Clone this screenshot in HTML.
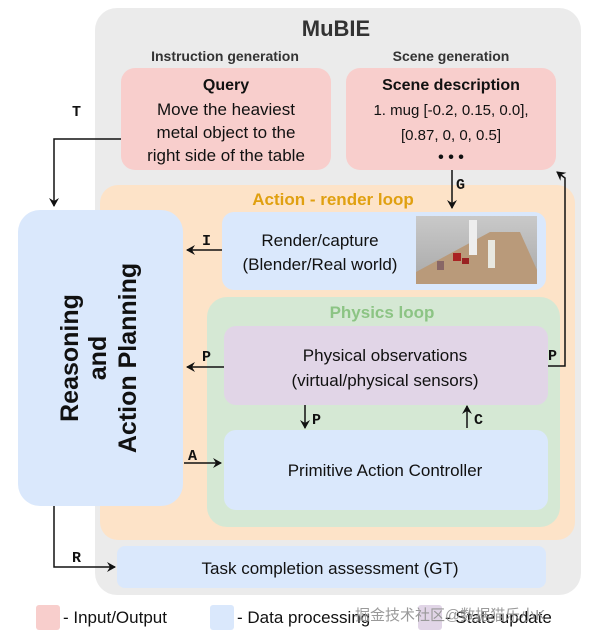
<!DOCTYPE html>
<html><head><meta charset="utf-8"><style>
html,body{margin:0;padding:0;background:#fff;width:600px;height:641px;overflow:hidden}
svg text{font-family:"Liberation Sans",sans-serif}
.m{font-family:"Liberation Mono",monospace;font-size:15px;font-weight:bold}
</style></head><body>
<svg width="600" height="641" viewBox="0 0 600 641" xmlns="http://www.w3.org/2000/svg" fill="#111">
<defs>
<marker id="a" markerWidth="10" markerHeight="10" refX="8" refY="5" orient="auto" markerUnits="userSpaceOnUse"><path d="M0,0 L9,5 L0,10 L3,5 z" fill="#111"/></marker>
<linearGradient id="wall" x1="0" y1="0" x2="0" y2="1"><stop offset="0" stop-color="#c9c9c9"/><stop offset="1" stop-color="#a8a8a8"/></linearGradient>
</defs>
<rect x="95" y="8" width="486" height="587" rx="22" fill="#ebebeb"/>
<text x="336" y="36" font-size="22" font-weight="bold" text-anchor="middle" style="fill:#333">MuBIE</text>
<text x="225" y="61" font-size="14" font-weight="bold" text-anchor="middle" style="fill:#333">Instruction generation</text>
<text x="451" y="61" font-size="14" font-weight="bold" text-anchor="middle" style="fill:#333">Scene generation</text>
<rect x="121" y="68" width="210" height="102" rx="14" fill="#f8cecc"/>
<rect x="346" y="68" width="210" height="102" rx="14" fill="#f8cecc"/>
<text x="226" y="90" font-size="16" font-weight="bold" text-anchor="middle">Query</text>
<text x="226" y="115" font-size="17" text-anchor="middle">Move the heaviest</text>
<text x="226" y="138" font-size="17" text-anchor="middle">metal object to the</text>
<text x="226" y="161" font-size="17" text-anchor="middle">right side of the table</text>
<text x="451" y="90" font-size="16" font-weight="bold" text-anchor="middle">Scene description</text>
<text x="451" y="115" font-size="15" text-anchor="middle">1. mug [-0.2, 0.15, 0.0],</text>
<text x="451" y="140" font-size="15" text-anchor="middle">[0.87, 0, 0, 0.5]</text>
<text x="451" y="162" font-size="16" text-anchor="middle" font-weight="bold">•  •  •</text>
<rect x="100" y="185" width="475" height="355" rx="18" fill="#fde3c8"/>
<text x="333" y="205" font-size="17" font-weight="bold" text-anchor="middle" style="fill:#e0a010">Action - render loop</text>
<rect x="222" y="212" width="324" height="78" rx="12" fill="#dae8fc"/>
<text x="320" y="246" font-size="17" text-anchor="middle">Render/capture</text>
<text x="320" y="270" font-size="17" text-anchor="middle">(Blender/Real world)</text>
<rect x="416" y="216" width="121" height="68" fill="url(#wall)"/>
<path d="M416,284 L416,272 L490,232 L520,232 L537,270 L537,284 Z" fill="#b99a7a"/>
<rect x="469" y="220" width="8" height="35" fill="#eee"/>
<rect x="488" y="240" width="7" height="28" fill="#e8e8e0"/>
<rect x="453" y="253" width="8" height="8" fill="#a22"/>
<rect x="462" y="258" width="7" height="6" fill="#922"/>
<rect x="437" y="261" width="7" height="9" fill="#866"/>
<rect x="207" y="297" width="353" height="230" rx="20" fill="#d5e8d4"/>
<text x="382" y="318" font-size="17" font-weight="bold" text-anchor="middle" style="fill:#8cc484">Physics loop</text>
<rect x="224" y="326" width="324" height="79" rx="12" fill="#e1d5e7"/>
<text x="385" y="361" font-size="17" text-anchor="middle">Physical observations</text>
<text x="385" y="386" font-size="17" text-anchor="middle">(virtual/physical sensors)</text>
<rect x="224" y="430" width="324" height="80" rx="12" fill="#dae8fc"/>
<text x="385" y="476" font-size="17" text-anchor="middle">Primitive Action Controller</text>
<rect x="18" y="210" width="165" height="296" rx="22" fill="#dae8fc"/>
<g transform="translate(100,358) rotate(-90)" font-weight="bold" font-size="25">
<text x="0" y="-22" text-anchor="middle">Reasoning</text>
<text x="0" y="6" text-anchor="middle">and</text>
<text x="0" y="36" text-anchor="middle">Action Planning</text>
</g>
<rect x="117" y="546" width="429" height="42" rx="8" fill="#dae8fc"/>
<text x="330" y="574" font-size="17" text-anchor="middle">Task completion assessment (GT)</text>
<g stroke="#111" stroke-width="1.5" fill="none">
<path d="M121,139 H54 V206" marker-end="url(#a)"/>
<path d="M452,170 V208" marker-end="url(#a)"/>
<path d="M222,250 H187" marker-end="url(#a)"/>
<path d="M224,367 H187" marker-end="url(#a)"/>
<path d="M184,463 H221" marker-end="url(#a)"/>
<path d="M305,405 V428" marker-end="url(#a)"/>
<path d="M467,428 V406" marker-end="url(#a)"/>
<path d="M548,366 H565 V178 L557,172" marker-end="url(#a)"/>
<path d="M54,506 V567 H115" marker-end="url(#a)"/>
</g>
<text class="m" x="72" y="116">T</text>
<text class="m" x="456" y="189">G</text>
<text class="m" x="202" y="245">I</text>
<text class="m" x="202" y="361">P</text>
<text class="m" x="188" y="460">A</text>
<text class="m" x="312" y="424">P</text>
<text class="m" x="474" y="424">C</text>
<text class="m" x="548" y="360">P</text>
<text class="m" x="72" y="562">R</text>
<rect x="36" y="605" width="24" height="25" rx="3" fill="#f8cecc"/>
<text x="63" y="623" font-size="17">- Input/Output</text>
<rect x="210" y="605" width="24" height="25" rx="3" fill="#dae8fc"/>
<text x="237" y="623" font-size="17">- Data processing</text>
<rect x="418" y="605" width="24" height="25" rx="3" fill="#e1d5e7"/>
<text x="445" y="623" font-size="17">- State update</text>
<text x="355" y="620" font-size="15" style="fill:#999;font-family:'Liberation Sans','Noto Sans CJK SC',sans-serif">掘金技术社区@数据猫乐小K</text>
</svg>
</body></html>
